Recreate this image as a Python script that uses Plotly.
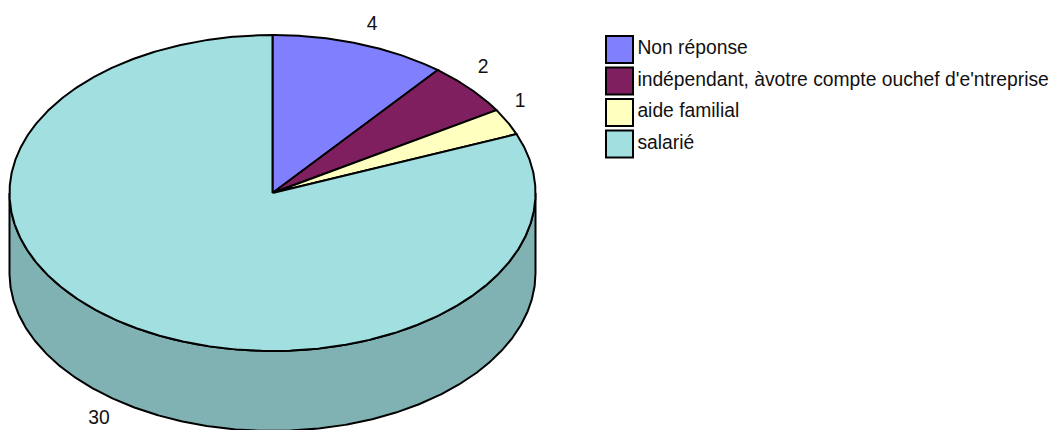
import numpy as np
import plotly.graph_objects as go

categories = ["Non réponse", "indépendant, àvotre compte ouchef d'e'ntreprise", "aide familial", "salarié"]
values = [4, 2, 1, 30]
colors = ["#8080FF", "#7F1F5F", "#FFFFC0", "#A1DFE0"]
side_color = "#80B1B3"
FONT = "Liberation Sans, Arial, sans-serif"

W, H = 1055, 430
CX, CY, RX, RY, DEPTH = 272.5, 193, 263, 158, 80
LEG_X, LEG_Y0, LEG_DY = 619.5, 49.5, 31.5
label_pos = [(372, 25.5), (483, 68.5), (520, 102.5), (99, 419.5)]

fig = go.Figure()

def ell(a, dy=0):
    a = np.asarray(a)
    return CX + RX * np.sin(a), CY + dy - RY * np.cos(a)

# side wall
t = np.linspace(np.pi / 2, 3 * np.pi / 2, 361)
xb, yb = ell(t, DEPTH)
xt, yt = ell(t[::-1])
fig.add_trace(go.Scatter(x=np.r_[xb, xt, xb[0]], y=np.r_[yb, yt, yb[0]], mode="lines", fill="toself",
                         fillcolor=side_color, line=dict(color="black", width=2), hoverinfo="skip", showlegend=False))

# top slices
total = sum(values)
start = 0.0
for cat, v, c in zip(categories, values, colors):
    end = start + v / total * 2 * np.pi
    a = np.linspace(start, end, max(int(v * 30), 30))
    x, y = ell(a)
    fig.add_trace(go.Scatter(x=np.r_[CX, x, CX], y=np.r_[CY, y, CY], mode="lines", fill="toself",
                             fillcolor=c, line=dict(color="black", width=2), name=cat,
                             hovertemplate=f"{cat}: {v}<extra></extra>", showlegend=False))
    start = end

# value labels
fig.add_trace(go.Scatter(x=[p[0] for p in label_pos], y=[p[1] for p in label_pos], mode="text",
                         text=[str(v) for v in values], textposition="middle center",
                         textfont=dict(family=FONT, size=19.3, color="#111111"), hoverinfo="skip", showlegend=False))

# legend
fig.add_trace(go.Scatter(x=[LEG_X] * 4, y=[LEG_Y0 + i * LEG_DY for i in range(4)], mode="markers+text",
                         marker=dict(symbol="square", size=27, color=colors, line=dict(color="black", width=2)),
                         text=categories, textposition="middle right",
                         textfont=dict(family=FONT, size=19.3, color="#111111"), hoverinfo="skip", showlegend=False))

fig.update_layout(width=W, height=H, margin=dict(l=0, r=0, t=0, b=0),
                  paper_bgcolor="white", plot_bgcolor="white",
                  xaxis=dict(range=[0, W], visible=False, fixedrange=True),
                  yaxis=dict(range=[H, 0], visible=False, fixedrange=True))
fig.write_html("out.html", config=dict(displayModeBar=False),
               post_script="document.body.style.margin='0';document.body.style.overflow='hidden';")
